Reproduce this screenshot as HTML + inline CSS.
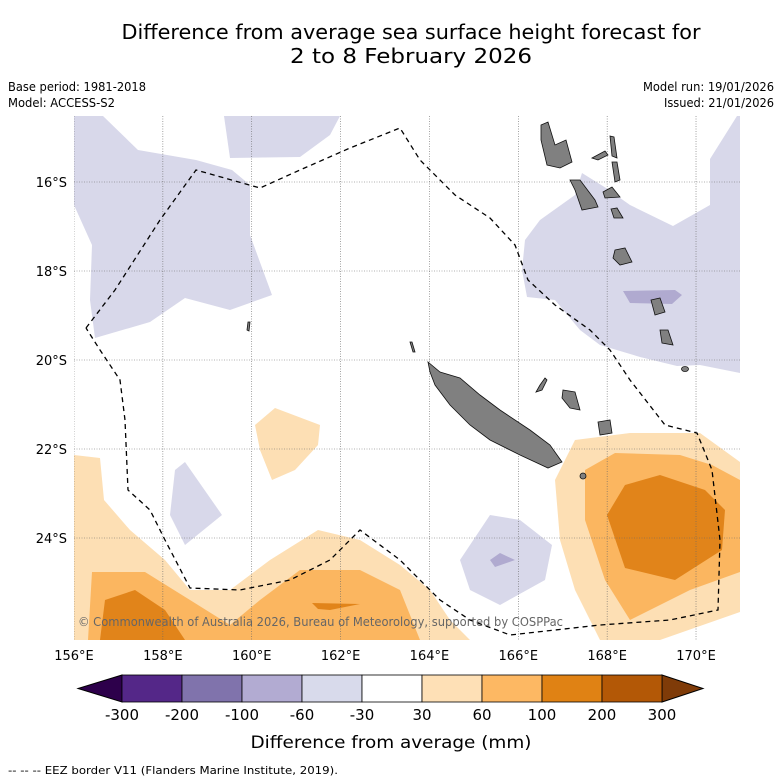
<!DOCTYPE html>
<html><head><meta charset="utf-8"><style>
body{margin:0;background:#fff;}
svg{display:block;font-family:"DejaVu Sans","Liberation Sans",sans-serif;}
</style></head><body>
<svg id="chart" width="781" height="781" viewBox="0 0 781 781" xmlns="http://www.w3.org/2000/svg">
<rect width="781" height="781" fill="#fff"/>
<text x="411" y="39" font-size="20" text-anchor="middle" textLength="579" lengthAdjust="spacingAndGlyphs">Difference from average sea surface height forecast for</text>
<text x="411" y="63" font-size="20" text-anchor="middle" textLength="242" lengthAdjust="spacingAndGlyphs">2 to 8 February 2026</text>
<text x="8" y="91" font-size="12" textLength="138" lengthAdjust="spacingAndGlyphs">Base period: 1981-2018</text>
<text x="8" y="107" font-size="12" textLength="107" lengthAdjust="spacingAndGlyphs">Model: ACCESS-S2</text>
<text x="774" y="91" font-size="12" text-anchor="end" textLength="131" lengthAdjust="spacingAndGlyphs">Model run: 19/01/2026</text>
<text x="774" y="107" font-size="12" text-anchor="end" textLength="110" lengthAdjust="spacingAndGlyphs">Issued: 21/01/2026</text>

<defs><clipPath id="mapclip"><rect x="74" y="116" width="666" height="524"/></clipPath></defs>
<g id="map" clip-path="url(#mapclip)">
  <g fill="#d8d8ea">
    <polygon points="74,116 103,116 138,150 196,160 232,170 250,185 250,235 272,295 230,310 185,298 150,322 95,338 90,300 92,245 74,205"/>
    <polygon points="224,116 340,116 330,135 300,157 230,158"/>
    <polygon points="737,116 740,116 740,373 700,365 677,366 640,357 600,345 580,330 555,300 527,297 522,270 525,240 540,220 575,195 582,173 606,188 630,205 673,226 710,205 710,159"/>
    <polygon points="175,470 185,462 222,515 185,545 170,515"/>
    <polygon points="460,560 490,515 520,520 552,545 545,580 500,605 470,590"/>
  </g>
  <g fill="#b0aad0">
    <polygon points="623,291 675,290 682,295 672,304 630,303"/>
    <polygon points="490,560 500,553 515,560 495,567"/>
  </g>
  <g fill="#fddfb4">
    <polygon points="74,455 100,458 104,500 130,530 165,560 190,590 230,590 270,560 318,530 360,540 400,565 430,590 450,620 470,640 74,640"/>
    <polygon points="255,425 275,408 320,425 318,445 295,470 272,480 260,450"/>
    <polygon points="555,480 575,440 630,433 700,433 740,462 740,612 660,640 600,640 575,590 560,540"/>
  </g>
  <g fill="#fbb660">
    <polygon points="92,572 145,572 190,600 230,625 260,600 300,570 360,570 400,590 420,640 88,640"/>
    <polygon points="585,470 615,453 680,455 712,465 740,480 740,572 690,590 630,620 605,580 585,520"/>
  </g>
  <g fill="#e1841a">
    <polygon points="105,600 135,590 165,610 185,640 100,640"/>
    <polygon points="312,603 360,604 330,610 318,609"/>
    <polygon points="607,515 625,485 660,475 705,490 725,510 722,550 675,580 625,568"/>
  </g>
  <g stroke="#666" stroke-width="0.6" stroke-dasharray="1,1.5" id="grid"></g>
  <g fill="#808080" stroke="#111" stroke-width="0.8">
    <polygon points="428,362 440,372 460,378 480,395 500,410 530,430 550,445 562,462 548,468 520,455 490,440 470,425 450,405 435,385 430,372"/>
    <polygon points="541,125 548,122 555,145 566,140 572,162 560,168 547,165 541,140"/>
    <polygon points="570,180 580,180 595,200 598,207 582,210 575,190"/>
    <polygon points="610,136 614,137 617,158 612,156"/>
    <polygon points="612,162 617,162 620,180 615,182"/>
    <polygon points="592,158 605,151 608,155 598,160"/>
    <polygon points="603,192 612,187 620,197 605,198"/>
    <polygon points="611,209 617,208 623,218 614,218"/>
    <polygon points="615,250 625,248 632,262 620,265 613,258"/>
    <polygon points="651,300 660,298 665,312 655,315"/>
    <polygon points="660,330 668,330 673,345 662,343"/>
    <ellipse cx="685" cy="369" rx="3.5" ry="2.5"/>
    <polygon points="563,390 575,392 580,410 570,408 562,398"/>
    <polygon points="598,422 610,420 612,433 600,435"/>
    <polygon points="540,385 545,378 547,380 542,390 536,392"/>
    <ellipse cx="583" cy="476" rx="3" ry="3"/>
    <polygon points="248,322 250,322 249,331 247,330"/>
    <polygon points="410,342 412,342 415,352 413,352"/>
  </g>
  <polyline fill="none" stroke="#000" stroke-width="1.3" stroke-dasharray="5,4" points="86,328 115,290 160,220 196,170 260,188 300,170 350,148 400,128 420,160 455,195 490,218 515,245 528,280 555,305 590,330 610,350 630,380 665,425 697,433 712,470 720,540 718,610 670,620 600,625 510,635 470,620 440,600 410,570 400,560 360,530 330,560 290,580 240,590 190,588 165,540 150,510 128,490 125,420 120,380 100,350 86,328"/>
  <text x="78" y="626" font-size="12" fill="#666" textLength="485" lengthAdjust="spacingAndGlyphs">© Commonwealth of Australia 2026, Bureau of Meteorology, supported by COSPPac</text>
</g>
<g id="axes" font-size="13"></g>
<g id="colorbar"></g>
<text x="391" y="748" font-size="17" text-anchor="middle" textLength="281" lengthAdjust="spacingAndGlyphs">Difference from average (mm)</text>
<text x="8" y="774" font-size="11" textLength="330" lengthAdjust="spacingAndGlyphs">--  --  -- EEZ border V11 (Flanders Marine Institute, 2019).</text>
</svg>
<script>
const lonTicks = [156,158,160,162,164,166,168,170];
const latTicks = [16,18,20,22,24];
const cbBounds = [-300,-200,-100,-60,-30,30,60,100,200,300];
const cbColors = ['#542788','#8073ac','#b2abd2','#d8daeb','#ffffff','#fee0b6','#fdb863','#e08214','#b35806'];
const cbLowColor = '#2d004b';
const cbHighColor = '#7f3b08';

const NS='http://www.w3.org/2000/svg';
function xLon(l){return 74+(l-156)*44.43;}
function yLat(l){return 182+(l-16)*44.5;}
function mk(tag,attrs,parent){const e=document.createElementNS(NS,tag);for(const k in attrs)e.setAttribute(k,attrs[k]);parent.appendChild(e);return e;}
const grid=document.getElementById('grid');
const axes=document.getElementById('axes');
lonTicks.forEach(l=>{
  const x=xLon(l);
  const ln=mk('line',{x1:x,y1:116,x2:x,y2:640},grid);
  
  
  const t=mk('text',{x:x,y:660,'text-anchor':'middle'},axes);
  
  
  t.textContent=l+'°E';
});
latTicks.forEach(l=>{
  const y=yLat(l);
  const ln=mk('line',{x1:74,y1:y,x2:740,y2:y},grid);
  
  
  const t=mk('text',{x:67,y:y+5,'text-anchor':'end'},axes);
  
  
  t.textContent=l+'°S';
});
const cb=document.getElementById('colorbar');
const cbX0=122,cbW=60,cbY=675,cbH=27;
function cbx(i){return cbX0+i*cbW;}
const lo=mk('polygon',{points:`${cbx(0)},${cbY} 78,${cbY+cbH/2} ${cbx(0)},${cbY+cbH}`,fill:cbLowColor,stroke:'#000','stroke-width':1},cb);


const n=cbColors.length;
const hi=mk('polygon',{points:`${cbx(n)},${cbY} 703,${cbY+cbH/2} ${cbx(n)},${cbY+cbH}`,fill:cbHighColor,stroke:'#000','stroke-width':1},cb);


cbColors.forEach((c,i)=>{
  const r=mk('rect',{x:cbx(i),y:cbY,width:cbW,height:cbH,fill:c,stroke:'#000','stroke-width':0.8},cb);
  
  
});
cbBounds.forEach((b,i)=>{
  const t=mk('text',{x:cbx(i),y:720,'text-anchor':'middle','font-size':15},cb);
  
  
  t.textContent=b;
});
</script>
</body></html>
